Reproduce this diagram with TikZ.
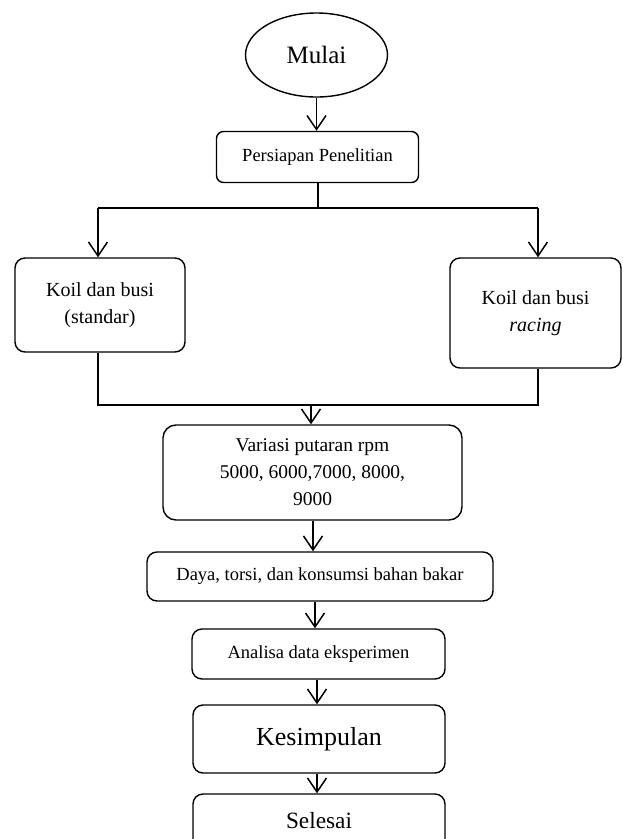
\documentclass[tikz,border=0pt]{standalone}
\usepackage{fontspec}
\setmainfont{Liberation Serif}
\usetikzlibrary{arrows.meta,shapes.geometric}
\begin{document}
\begin{tikzpicture}[x=1pt,y=1pt,
  box/.style={draw,line width=1.4pt,rounded corners=10pt,align=center,inner sep=0pt},
  conn/.style={line width=1.5pt},
  arr/.style={line width=1.5pt,-{Straight Barb[length=14pt,width=19pt,line width=1.5pt]}}]
\useasboundingbox (0,0) rectangle (622,-839);
\node[draw,ellipse,line width=1.4pt,minimum width=142pt,minimum height=84pt,inner sep=0pt,font=\fontsize{25}{30}\selectfont] (mulai) at (316.5,-55) {Mulai};
\node[box,rounded corners=7pt,minimum width=202pt,minimum height=51pt,font=\fontsize{18.5}{24}\selectfont] (persiapan) at (317.5,-157) {Persiapan Penelitian};
\node[box,minimum width=170pt,minimum height=94pt,font=\fontsize{20}{27}\selectfont] (koil1) at (100,-305) {Koil dan busi\\(standar)};
\node[box,minimum width=171pt,minimum height=110pt,font=\fontsize{20}{27}\selectfont] (koil2) at (535.5,-313) {Koil dan busi\\\textit{racing}};
\node[box,rounded corners=13pt,minimum width=299pt,minimum height=95pt,font=\fontsize{19.5}{27}\selectfont] (variasi) at (312.5,-472.5) {Variasi putaran rpm\\5000, 6000,7000, 8000,\\9000};
\node[box,minimum width=346pt,minimum height=49pt,font=\fontsize{18.5}{24}\selectfont] (daya) at (320,-576.5) {Daya, torsi, dan konsumsi bahan bakar};
\node[box,minimum width=253pt,minimum height=50pt,font=\fontsize{18.5}{24}\selectfont] (analisa) at (318.5,-654) {Analisa data eksperimen};
\node[box,minimum width=252pt,minimum height=68pt,font=\fontsize{26}{31}\selectfont] (kesimpulan) at (319,-739) {Kesimpulan};
\node[box,minimum width=252pt,minimum height=58pt,font=\fontsize{23.3}{28}\selectfont,text depth=0pt] (selesai) at (319,-823) {\raisebox{6pt}{Selesai}};
% connectors
\draw[arr] (mulai.south) -- (persiapan.north -| mulai.south);
\coordinate (jt) at (318,-208);
\coordinate (jl) at (98,-208);
\coordinate (jr) at (538,-208);
\draw[conn] (persiapan.south -| jt) -- (jt);
\draw[conn] (jl) -- (jr);
\draw[arr] (jl) -- (koil1.north -| jl);
\draw[arr] (jr) -- (koil2.north -| jr);
\coordinate (bl) at (98,-405);
\coordinate (br) at (538,-405);
\coordinate (bm) at (311,-405);
\draw[conn] (koil1.south -| bl) -- (bl) -- (br) -- (koil2.south -| br);
\draw[arr] (bm) -- (variasi.north -| bm);
\coordinate (a1) at (313,0);
\draw[arr] (variasi.south -| a1) -- (daya.north -| a1);
\coordinate (a2) at (315,0);
\draw[arr] (daya.south -| a2) -- (analisa.north -| a2);
\coordinate (a3) at (317,0);
\draw[arr] (analisa.south -| a3) -- (kesimpulan.north -| a3);
\draw[arr] (kesimpulan.south -| a3) -- (selesai.north -| a3);
\end{tikzpicture}
\end{document}
